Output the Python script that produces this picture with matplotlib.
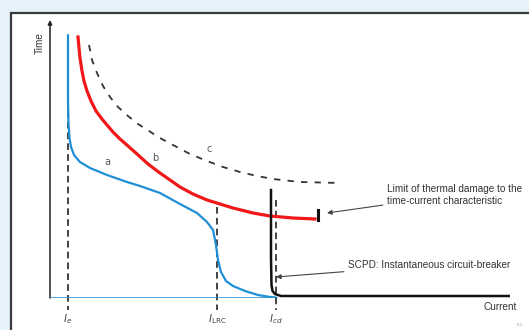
import matplotlib.pyplot as plt
from matplotlib.patches import Rectangle

# Schematic units: x = current, y = time (origin at axis corner)
curve_a_x = [18, 18, 18.5, 19.5, 21, 24, 30, 40, 57, 77, 90, 110, 130, 147, 157, 163, 166, 168, 171, 176, 183, 195, 208, 220, 226]
curve_a_y = [263, 198, 175, 160, 151, 143, 136, 130, 123, 116, 112, 105, 94, 85, 76, 68, 53, 38, 26, 17, 12, 7, 3, 1, 0.5]

curve_b_x = [28, 29, 30, 32, 34, 37, 41, 46, 52, 57, 63, 70, 78, 87, 98, 110, 120, 130, 143, 157, 170, 183, 203, 220, 243, 265]
curve_b_y = [261, 250, 240, 227, 217, 207, 197, 187, 179, 173, 166, 159, 152, 144, 134, 125, 118, 111, 104, 98, 94, 90, 85, 82, 80, 79]

curve_c_x = [39, 42, 47, 53, 60, 68, 78, 88, 99, 110, 123, 140, 157, 173, 190, 207, 223, 250, 290]
curve_c_y = [253, 238, 225, 212, 201, 191, 182, 174, 167, 160, 153, 144, 137, 131, 126, 122, 119, 116, 115]

scpd_x = [221, 221, 221.5, 222.5, 225, 231, 460]
scpd_y = [108, 40, 13, 7, 4, 2, 2]

tick_pos = [18, 167, 226]
tick_labels = [r'$I_e$', r'$I_{\rm LRC}$', r'$I_{cd}$']
dash_tops = [263, 91, 98]

fig = plt.figure(figsize=(5.29, 3.30), dpi=100)
fig.patch.set_facecolor('#e6f2fa')
fig.patches.append(Rectangle((11 / 529, -0.1), 1.1, 1 - 13 / 330 + 0.1,
                             transform=fig.transFigure, facecolor='white',
                             edgecolor='#3a3a3a', linewidth=1.6, zorder=-5))

ax = fig.add_axes([50 / 529, 32 / 330, 460 / 529, 278 / 330])
ax.set_xlim(0, 460)
ax.set_ylim(0, 278)
ax.axis('off')
ax.patch.set_alpha(0)

# axes with arrows
ax.annotate('', xy=(0, 278), xytext=(0, 0),
            arrowprops=dict(arrowstyle='-|>', color='#222222', lw=1.1,
                            mutation_scale=6, shrinkA=0, shrinkB=0))
ax.annotate('', xy=(461, 1), xytext=(0, 1),
            arrowprops=dict(arrowstyle='-|>', color='#222222', lw=1.1,
                            mutation_scale=6, shrinkA=0, shrinkB=0))

# vertical dashed markers
for xp, top in zip(tick_pos, dash_tops):
    ax.plot([xp, xp], [top, -12], color='#222222', lw=1.2,
            dashes=(4, 2.5), clip_on=False, zorder=3)
for xp, lab in zip(tick_pos, tick_labels):
    ax.text(xp, -21, lab, ha='center', va='center', fontsize=7.5,
            color='#444444', clip_on=False)

# curves
ax.plot([0, 226], [0.5, 0.5], color='#1f8fd6', lw=1.8, zorder=4)
ax.plot(curve_a_x, curve_a_y, color='#1f8fd6', lw=1.6, zorder=4,
        solid_capstyle='round')
ax.plot(curve_b_x, curve_b_y, color='#f01818', lw=2.3, zorder=4)
ax.plot([268, 268], [78, 88], color='#111111', lw=2.2, zorder=5)
ax.plot(curve_c_x, curve_c_y, color='#333333', lw=1.3, dashes=(3.5, 4), zorder=3)
ax.plot(scpd_x, scpd_y, color='#111111', lw=1.8, zorder=5)

# curve labels
ax.text(57, 136, 'a', fontsize=7, color='#555555', ha='center', va='center')
ax.text(105, 140, 'b', fontsize=7, color='#555555', ha='center', va='center')
ax.text(159, 149, 'c', fontsize=7, color='#555555', ha='center', va='center')

# annotations
ax.annotate('Limit of thermal damage to the\ntime-current characteristic',
            xy=(277, 85), xytext=(337, 103), fontsize=7.2, color='#333333',
            family='Liberation Sans', va='center', ha='left', linespacing=1.15,
            arrowprops=dict(arrowstyle='-|>', color='#444444', lw=0.8,
                            mutation_scale=7, shrinkA=1, shrinkB=0))
ax.annotate('SCPD: Instantaneous circuit-breaker',
            xy=(226, 21), xytext=(298, 33), fontsize=7.2, color='#333333',
            family='Liberation Sans', va='center', ha='left',
            arrowprops=dict(arrowstyle='-|>', color='#444444', lw=0.8,
                            mutation_scale=7, shrinkA=1, shrinkB=0))

ax.text(-10, 255, 'Time', rotation=90, fontsize=7.2, color='#333333',
        family='Liberation Sans', ha='center', va='center')
ax.text(450, -9, 'Current', fontsize=7.2, color='#333333',
        family='Liberation Sans', ha='center', va='center', clip_on=False)
ax.text(470, -27, 'IEC', fontsize=3, color='#999999', ha='center', va='center',
        clip_on=False)

fig.savefig('out.png', dpi=100, facecolor=fig.get_facecolor())
